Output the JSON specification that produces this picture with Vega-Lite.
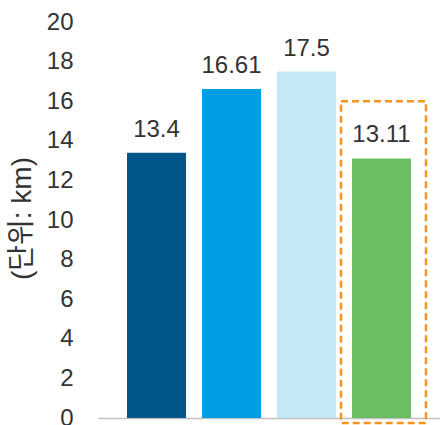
{
  "$schema": "https://vega.github.io/schema/vega-lite/v6.json",
  "width": 342,
  "height": 396,
  "autosize": {"type": "none"},
  "padding": {"left": 98, "top": 22, "right": 0, "bottom": 7},
  "background": "white",
  "config": {
    "view": {"stroke": null},
    "font": "Liberation Sans",
    "axis": {"labelFont": "Liberation Sans", "titleFont": "Liberation Sans, Noto Sans CJK KR"},
    "axisY": {
      "labelOverlap": false,
      "labelFontSize": 24,
      "labelColor": "#333333",
      "labelPadding": 25,
      "ticks": false,
      "domain": false,
      "grid": false,
      "titleFontSize": 28,
      "titleFontWeight": "normal",
      "titleColor": "#333333"
    }
  },
  "data": {
    "values": [
      {"k": "A", "v": 13.4},
      {"k": "B", "v": 16.61},
      {"k": "C", "v": 17.5},
      {"k": "D", "v": 13.11}
    ]
  },
  "encoding": {
    "x": {
      "field": "k",
      "type": "nominal",
      "sort": null,
      "scale": {"paddingInner": 0.213, "paddingOuter": 0.387},
      "axis": {
        "title": null,
        "labels": false,
        "ticks": false,
        "domainColor": "#c0c0c0",
        "domainWidth": 1.5
      }
    }
  },
  "layer": [
    {
      "mark": {"type": "bar"},
      "encoding": {
        "y": {
          "field": "v",
          "type": "quantitative",
          "scale": {"domain": [0, 20], "nice": false},
          "axis": {
            "title": "(단위: km)",
            "titleAngle": -90,
            "titleX": -76,
            "titleY": 196,
            "titleAlign": "center",
            "titleBaseline": "middle",
            "values": [0, 2, 4, 6, 8, 10, 12, 14, 16, 18, 20],
            "labelOverlap": false
          }
        },
        "color": {
          "field": "k",
          "type": "nominal",
          "scale": {
            "domain": ["A", "B", "C", "D"],
            "range": ["#00558B", "#009FE3", "#C5E8F7", "#6ABF63"]
          },
          "legend": null
        }
      }
    },
    {
      "mark": {
        "type": "text",
        "baseline": "alphabetic",
        "dy": -16,
        "fontSize": 24,
        "color": "#333333"
      },
      "encoding": {
        "y": {
          "field": "v",
          "type": "quantitative",
          "axis": {
            "title": "(단위: km)",
            "values": [0, 2, 4, 6, 8, 10, 12, 14, 16, 18, 20],
            "labelOverlap": false
          }
        },
        "text": {"field": "v", "type": "quantitative"}
      }
    },
    {
      "data": {"values": [{"k": "D", "top": 16.0, "bottom": -0.25}]},
      "mark": {
        "type": "bar",
        "width": 85,
        "xOffset": 2,
        "fill": null,
        "fillOpacity": 0,
        "stroke": "#F7941D",
        "strokeWidth": 2.5,
        "strokeDash": [7, 4]
      },
      "encoding": {
        "y": {
          "field": "top",
          "type": "quantitative",
          "axis": {
            "title": "(단위: km)",
            "values": [0, 2, 4, 6, 8, 10, 12, 14, 16, 18, 20],
            "labelOverlap": false
          }
        },
        "y2": {"field": "bottom"}
      }
    }
  ]
}
